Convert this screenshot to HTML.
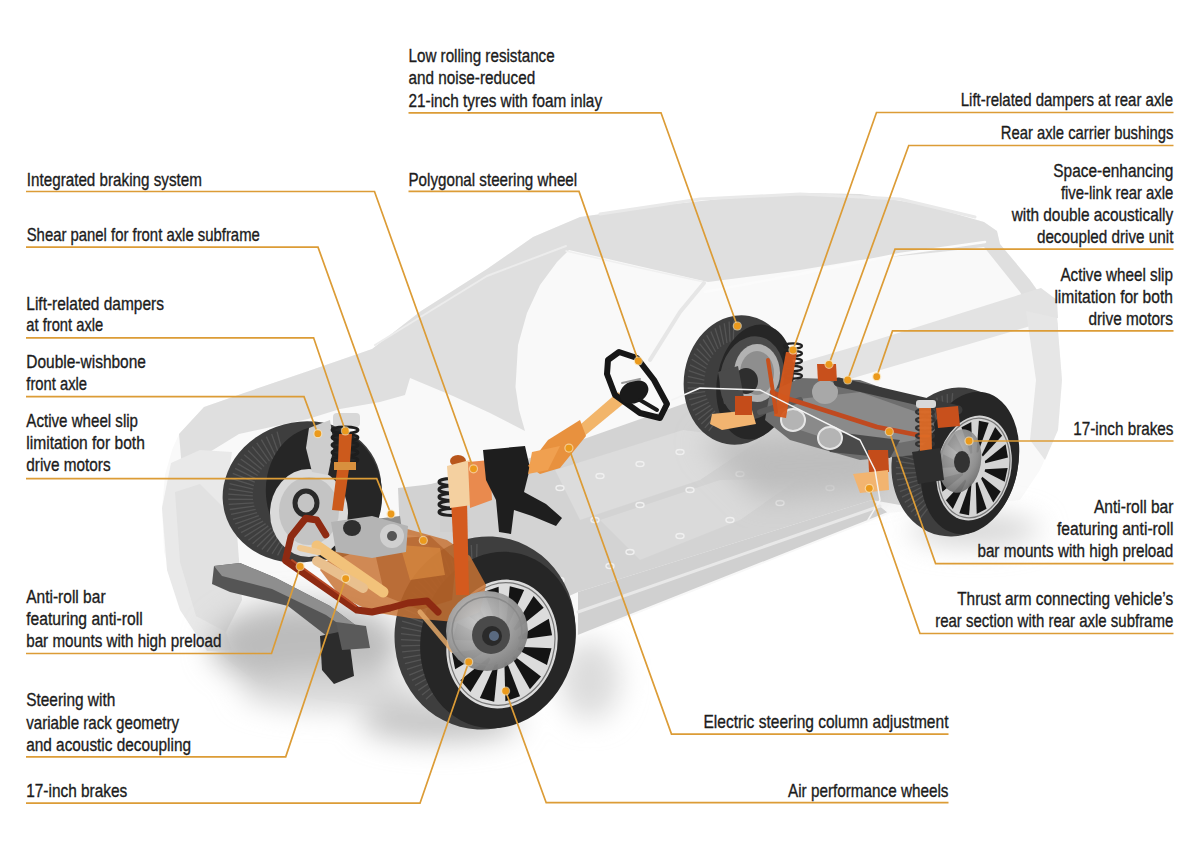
<!DOCTYPE html>
<html><head><meta charset="utf-8"><title>Chassis</title>
<style>
html,body{margin:0;padding:0;background:#fff;}
body{width:1200px;height:849px;overflow:hidden;position:relative;}
svg{position:absolute;left:0;top:0;display:block;}
.lbl text{font-family:"Liberation Sans",sans-serif;font-size:18.4px;fill:#1c1c1c;stroke:#1c1c1c;stroke-width:0.35px;}
</style></head><body>
<svg width="1200" height="849" viewBox="0 0 1200 849">
<defs>
<filter id="b2" x="-20%" y="-20%" width="140%" height="140%"><feGaussianBlur stdDeviation="2"/></filter>
<filter id="b6" x="-30%" y="-30%" width="160%" height="160%"><feGaussianBlur stdDeviation="6"/></filter>
<filter id="b14" x="-40%" y="-40%" width="180%" height="180%"><feGaussianBlur stdDeviation="14"/></filter>
</defs>
<rect width="1200" height="849" fill="#ffffff"/>
<defs>
<radialGradient id="gdisc" cx="0.4" cy="0.35" r="0.7"><stop offset="0" stop-color="#c9c9c9"/><stop offset="0.6" stop-color="#9c9c9c"/><stop offset="1" stop-color="#7c7c7c"/></radialGradient>
<radialGradient id="gdisc2" cx="0.4" cy="0.35" r="0.7"><stop offset="0" stop-color="#b5b5b5"/><stop offset="0.7" stop-color="#8a8a8a"/><stop offset="1" stop-color="#6a6a6a"/></radialGradient>
</defs>
<polygon points="165.0,475.0 172.0,450.0 179.0,434.0 204.0,407.0 244.0,393.0 307.0,371.5 372.0,349.0 421.0,311.0 487.0,269.0 533.0,237.0 580.0,217.0 664.0,205.0 720.0,199.0 800.0,193.0 860.0,194.0 925.0,205.0 984.0,222.0 997.0,231.0 1000.0,244.0 1030.0,280.0 1057.0,318.0 1062.0,380.0 1058.0,430.0 1040.0,470.0 1020.0,500.0 888.0,513.0 578.0,636.0 420.0,712.0 319.0,700.0 256.0,682.0 216.0,651.0 180.0,605.0 164.0,552.0 162.0,508.0" fill="#f9f9f9" />
<polygon points="179.0,434.0 204.0,407.0 244.0,393.0 307.0,371.5 372.0,349.0 421.0,311.0 487.0,269.0 533.0,237.0 580.0,217.0 664.0,205.0 720.0,199.0 800.0,193.0 860.0,194.0 925.0,205.0 984.0,222.0 997.0,231.0 1000.0,244.0 1030.0,280.0 1057.0,318.0 1058.0,330.0 1042.0,326.0 1020.0,292.0 984.0,247.0 940.0,252.0 860.0,260.0 800.0,270.0 708.0,282.0 569.0,250.0 557.0,262.0 540.0,285.0 527.0,313.0 518.0,345.0 515.5,387.0 519.0,410.0 525.0,431.0 490.0,413.0 453.0,396.0 410.0,378.0 405.0,395.0 380.0,402.0 340.0,409.0 308.0,419.0 239.0,434.0 182.0,469.0" fill="#dfdfdf" />
<polygon points="700.0,392.0 860.0,345.0 1041.0,288.0 1057.0,300.0 1058.0,318.0 860.0,376.0 720.0,420.0" fill="#e3e3e3" />
<polygon points="1026.0,311.0 1057.0,318.0 1062.0,380.0 1058.0,430.0 1045.0,460.0 1030.0,440.0 1036.0,380.0" fill="#e6e6e6" />
<polygon points="171.0,463.0 200.0,450.0 232.0,452.0 222.0,520.0 215.0,600.0 232.0,650.0 207.0,651.0 180.0,610.0 167.0,570.0 162.0,508.0" fill="#e9e9e9" />
<polygon points="175.0,492.0 200.0,484.0 236.0,520.0 242.0,600.0 226.0,632.0 196.0,616.0 180.0,562.0" fill="#e1e1e1" />
<polyline points="705.0,292.0 800.0,274.0 900.0,254.0 985.0,242.0" fill="none" stroke="#fbfbfb" stroke-width="2.5" stroke-linecap="round" stroke-linejoin="round" />
<polyline points="600.0,214.0 700.0,199.0 800.0,194.0 900.0,199.0 975.0,217.0" fill="none" stroke="#e9e9e9" stroke-width="3" stroke-linecap="round" stroke-linejoin="round" />
<polyline points="566.0,251.0 640.0,268.0 704.0,282.0" fill="none" stroke="#f0f0f0" stroke-width="1.5" stroke-linecap="round" stroke-linejoin="round" />
<polyline points="704.0,283.0 680.0,312.0 650.0,360.0" fill="none" stroke="#e6e6e6" stroke-width="4" stroke-linecap="round" stroke-linejoin="round" />
<polyline points="375.0,345.0 487.0,276.0 566.0,246.0" fill="none" stroke="#ececec" stroke-width="2" stroke-linecap="round" stroke-linejoin="round" />
<g filter="url(#b14)">
  <ellipse cx="305" cy="645" rx="95" ry="42" fill="#bcbcbc"/>
  <ellipse cx="330" cy="690" rx="90" ry="20" fill="#d8d8d8"/>
  <ellipse cx="440" cy="722" rx="80" ry="20" fill="#c4c4c4"/>
  <ellipse cx="590" cy="680" rx="30" ry="40" fill="#dcdcdc"/>
  <ellipse cx="975" cy="530" rx="65" ry="15" fill="#d2d2d2"/>
</g>
<polygon points="400.0,492.0 527.0,459.0 683.0,404.0 760.0,380.0 880.0,390.0 930.0,418.0 900.0,505.0 872.0,500.0 578.0,592.0 560.0,600.0 470.0,622.0" fill="#d3d3d3" />
<polygon points="555.0,470.0 683.0,430.0 760.0,440.0 700.0,480.0 580.0,520.0" fill="#dcdcdc" />
<polygon points="600.0,520.0 720.0,480.0 800.0,478.0 740.0,520.0 640.0,560.0" fill="#dadada" />
<ellipse cx="560" cy="488" rx="4" ry="2.5" fill="none" stroke="#f0f0f0" stroke-width="1.4"/>
<ellipse cx="600" cy="476" rx="4" ry="2.5" fill="none" stroke="#f0f0f0" stroke-width="1.4"/>
<ellipse cx="640" cy="464" rx="4" ry="2.5" fill="none" stroke="#f0f0f0" stroke-width="1.4"/>
<ellipse cx="680" cy="452" rx="4" ry="2.5" fill="none" stroke="#f0f0f0" stroke-width="1.4"/>
<ellipse cx="595" cy="520" rx="4" ry="2.5" fill="none" stroke="#f0f0f0" stroke-width="1.4"/>
<ellipse cx="640" cy="505" rx="4" ry="2.5" fill="none" stroke="#f0f0f0" stroke-width="1.4"/>
<ellipse cx="690" cy="490" rx="4" ry="2.5" fill="none" stroke="#f0f0f0" stroke-width="1.4"/>
<ellipse cx="740" cy="474" rx="4" ry="2.5" fill="none" stroke="#f0f0f0" stroke-width="1.4"/>
<ellipse cx="630" cy="552" rx="4" ry="2.5" fill="none" stroke="#f0f0f0" stroke-width="1.4"/>
<ellipse cx="680" cy="536" rx="4" ry="2.5" fill="none" stroke="#f0f0f0" stroke-width="1.4"/>
<ellipse cx="730" cy="520" rx="4" ry="2.5" fill="none" stroke="#f0f0f0" stroke-width="1.4"/>
<ellipse cx="780" cy="503" rx="4" ry="2.5" fill="none" stroke="#f0f0f0" stroke-width="1.4"/>
<ellipse cx="830" cy="488" rx="4" ry="2.5" fill="none" stroke="#f0f0f0" stroke-width="1.4"/>
<ellipse cx="560" cy="580" rx="4" ry="2.5" fill="none" stroke="#f0f0f0" stroke-width="1.4"/>
<ellipse cx="610" cy="566" rx="4" ry="2.5" fill="none" stroke="#f0f0f0" stroke-width="1.4"/>
<g filter="url(#b14)"><polygon points="700,440 880,430 890,490 760,500" fill="#bdbdbd"/></g>
<polygon points="578.0,592.0 872.0,500.0 888.0,513.0 578.0,636.0" fill="#d0d0d0" />
<polyline points="578.0,636.0 888.0,513.0" fill="none" stroke="#f8f8f8" stroke-width="2" stroke-linecap="round" stroke-linejoin="round" />
<polyline points="578.0,612.0 880.0,506.0" fill="none" stroke="#e8e8e8" stroke-width="3" stroke-linecap="round" stroke-linejoin="round" />
<ellipse cx="738" cy="380" rx="54" ry="65" fill="#3e3e3e" transform="rotate(10 738 380)"/>
<g transform="translate(738,380) rotate(10)" stroke="#555555" stroke-width="1.3" fill="none">
<line x1="-11.5" y1="37.9" x2="-20.0" y2="55.5"/>
<line x1="-14.5" y1="36.3" x2="-24.4" y2="52.9"/>
<line x1="-17.3" y1="34.5" x2="-28.5" y2="49.7"/>
<line x1="-20.1" y1="32.3" x2="-32.4" y2="46.1"/>
<line x1="-22.6" y1="29.8" x2="-36.0" y2="42.1"/>
<line x1="-24.9" y1="27.0" x2="-39.3" y2="37.7"/>
<line x1="-26.9" y1="23.9" x2="-42.1" y2="32.9"/>
<line x1="-28.8" y1="20.6" x2="-44.6" y2="27.8"/>
<line x1="-30.3" y1="17.2" x2="-46.6" y2="22.4"/>
<line x1="-31.5" y1="13.5" x2="-48.2" y2="16.8"/>
<line x1="-32.5" y1="9.7" x2="-49.4" y2="11.1"/>
<line x1="-33.1" y1="5.9" x2="-50.0" y2="5.2"/>
<line x1="-33.4" y1="2.0" x2="-50.2" y2="-0.7"/>
<line x1="-33.4" y1="-2.0" x2="-49.9" y2="-6.6"/>
<line x1="-33.1" y1="-5.9" x2="-49.2" y2="-12.4"/>
<line x1="-32.5" y1="-9.7" x2="-47.9" y2="-18.1"/>
<line x1="-31.5" y1="-13.5" x2="-46.2" y2="-23.7"/>
<line x1="-30.3" y1="-17.2" x2="-44.1" y2="-29.0"/>
<line x1="-28.8" y1="-20.6" x2="-41.5" y2="-34.0"/>
<line x1="-26.9" y1="-23.9" x2="-38.6" y2="-38.7"/>
<line x1="-24.9" y1="-27.0" x2="-35.2" y2="-43.1"/>
<line x1="-22.6" y1="-29.8" x2="-31.6" y2="-47.0"/>
<line x1="-20.1" y1="-32.3" x2="-27.6" y2="-50.5"/>
<line x1="-17.3" y1="-34.5" x2="-23.4" y2="-53.5"/>
<line x1="-14.5" y1="-36.3" x2="-18.9" y2="-56.0"/>
<line x1="-11.5" y1="-37.9" x2="-14.3" y2="-57.9"/>
</g>
<ellipse cx="755" cy="382" rx="38" ry="58" fill="#262626" transform="rotate(10 755 382)"/>
<ellipse cx="752" cy="378" rx="32" ry="42" fill="#4a4a4a" transform="rotate(10 752 378)"/>
<ellipse cx="757" cy="373" rx="23" ry="29" fill="#b2b2b2"/>
<ellipse cx="757" cy="373" rx="17" ry="22" fill="#8e8e8e"/>
<ellipse cx="746" cy="381" rx="12" ry="13" fill="#2e2e2e"/>
<ellipse cx="302" cy="492" rx="80" ry="70" fill="#3e3e3e" transform="rotate(-15 302 492)"/>
<g transform="translate(302,492) rotate(-15)" stroke="#555555" stroke-width="1.3" fill="none">
<line x1="-17.0" y1="40.8" x2="-29.6" y2="59.7"/>
<line x1="-20.6" y1="39.5" x2="-34.9" y2="57.5"/>
<line x1="-24.1" y1="37.9" x2="-40.0" y2="54.9"/>
<line x1="-27.5" y1="36.1" x2="-44.9" y2="51.9"/>
<line x1="-30.7" y1="34.1" x2="-49.4" y2="48.7"/>
<line x1="-33.7" y1="31.9" x2="-53.7" y2="45.1"/>
<line x1="-36.4" y1="29.4" x2="-57.6" y2="41.2"/>
<line x1="-39.0" y1="26.8" x2="-61.1" y2="37.1"/>
<line x1="-41.3" y1="24.0" x2="-64.3" y2="32.7"/>
<line x1="-43.3" y1="21.1" x2="-67.1" y2="28.2"/>
<line x1="-45.1" y1="18.0" x2="-69.4" y2="23.4"/>
<line x1="-46.6" y1="14.8" x2="-71.3" y2="18.6"/>
<line x1="-47.8" y1="11.6" x2="-72.8" y2="13.6"/>
<line x1="-48.7" y1="8.2" x2="-73.8" y2="8.5"/>
<line x1="-49.3" y1="4.8" x2="-74.3" y2="3.3"/>
<line x1="-49.6" y1="1.4" x2="-74.4" y2="-1.8"/>
<line x1="-49.5" y1="-2.1" x2="-74.0" y2="-7.0"/>
<line x1="-49.2" y1="-5.5" x2="-73.1" y2="-12.1"/>
<line x1="-48.5" y1="-8.9" x2="-71.8" y2="-17.1"/>
<line x1="-47.6" y1="-12.2" x2="-70.0" y2="-22.1"/>
<line x1="-46.3" y1="-15.5" x2="-67.8" y2="-26.8"/>
<line x1="-44.8" y1="-18.7" x2="-65.1" y2="-31.5"/>
<line x1="-43.0" y1="-21.7" x2="-62.1" y2="-35.9"/>
<line x1="-40.9" y1="-24.6" x2="-58.6" y2="-40.1"/>
<line x1="-38.5" y1="-27.4" x2="-54.8" y2="-44.0"/>
<line x1="-35.9" y1="-29.9" x2="-50.7" y2="-47.7"/>
<line x1="-33.1" y1="-32.3" x2="-46.2" y2="-51.0"/>
<line x1="-30.0" y1="-34.5" x2="-41.4" y2="-54.1"/>
<line x1="-26.8" y1="-36.5" x2="-36.4" y2="-56.8"/>
<line x1="-23.4" y1="-38.3" x2="-31.1" y2="-59.1"/>
<line x1="-19.9" y1="-39.8" x2="-25.7" y2="-61.1"/>
<line x1="-16.2" y1="-41.0" x2="-20.1" y2="-62.7"/>
<line x1="-12.5" y1="-42.0" x2="-14.3" y2="-63.9"/>
<line x1="-8.6" y1="-42.7" x2="-8.5" y2="-64.7"/>
</g>
<ellipse cx="324" cy="493" rx="58" ry="67" fill="#262626" transform="rotate(-8 324 493)"/>
<ellipse cx="309" cy="513" rx="39" ry="44" fill="#dadada"/>
<ellipse cx="309" cy="511" rx="30" ry="34" fill="#c4c4c4"/>
<ellipse cx="306" cy="503" rx="11" ry="12" fill="none" stroke="#2a2a2a" stroke-width="5"/>
<ellipse cx="955" cy="462" rx="63" ry="75" fill="#3e3e3e" transform="rotate(12 955 462)"/>
<g transform="translate(955,462) rotate(12)" stroke="#555555" stroke-width="1.3" fill="none">
<line x1="-13.4" y1="43.7" x2="-23.3" y2="64.0"/>
<line x1="-16.6" y1="42.1" x2="-28.1" y2="61.2"/>
<line x1="-19.7" y1="40.1" x2="-32.6" y2="58.0"/>
<line x1="-22.7" y1="37.8" x2="-36.9" y2="54.2"/>
<line x1="-25.5" y1="35.2" x2="-40.8" y2="50.0"/>
<line x1="-28.1" y1="32.3" x2="-44.5" y2="45.4"/>
<line x1="-30.4" y1="29.2" x2="-47.7" y2="40.5"/>
<line x1="-32.5" y1="25.8" x2="-50.6" y2="35.2"/>
<line x1="-34.3" y1="22.2" x2="-53.1" y2="29.6"/>
<line x1="-35.9" y1="18.4" x2="-55.1" y2="23.7"/>
<line x1="-37.1" y1="14.5" x2="-56.7" y2="17.7"/>
<line x1="-38.1" y1="10.4" x2="-57.8" y2="11.5"/>
<line x1="-38.7" y1="6.3" x2="-58.4" y2="5.3"/>
<line x1="-39.0" y1="2.1" x2="-58.6" y2="-1.0"/>
<line x1="-39.0" y1="-2.1" x2="-58.3" y2="-7.3"/>
<line x1="-38.7" y1="-6.3" x2="-57.5" y2="-13.6"/>
<line x1="-38.1" y1="-10.4" x2="-56.2" y2="-19.7"/>
<line x1="-37.1" y1="-14.5" x2="-54.5" y2="-25.7"/>
<line x1="-35.9" y1="-18.4" x2="-52.3" y2="-31.4"/>
<line x1="-34.3" y1="-22.2" x2="-49.7" y2="-36.9"/>
<line x1="-32.5" y1="-25.8" x2="-46.7" y2="-42.1"/>
<line x1="-30.4" y1="-29.2" x2="-43.3" y2="-47.0"/>
<line x1="-28.1" y1="-32.3" x2="-39.6" y2="-51.4"/>
<line x1="-25.5" y1="-35.2" x2="-35.5" y2="-55.5"/>
<line x1="-22.7" y1="-37.8" x2="-31.2" y2="-59.1"/>
<line x1="-19.7" y1="-40.1" x2="-26.5" y2="-62.2"/>
<line x1="-16.6" y1="-42.1" x2="-21.7" y2="-64.8"/>
<line x1="-13.4" y1="-43.7" x2="-16.7" y2="-66.9"/>
</g>
<ellipse cx="970" cy="463" rx="48" ry="72" fill="#262626" transform="rotate(12 970 463)"/>
<g transform="translate(974,468) rotate(12)">
<ellipse cx="0" cy="0" rx="37" ry="53" fill="#d4d4d4"/>
<polygon points="11.1,-1.2 32.9,-7.1 32.9,7.1 11.1,1.2" fill="#141414"/>
<polygon points="10.0,6.9 31.0,17.4 26.0,29.8 9.2,9.0" fill="#141414"/>
<polygon points="6.3,13.1 20.8,37.3 12.2,44.4 4.8,14.3" fill="#141414"/>
<polygon points="0.8,15.9 5.0,47.2 -5.0,47.2 -0.8,15.9" fill="#141414"/>
<polygon points="-4.8,14.3 -12.2,44.4 -20.8,37.3 -6.3,13.1" fill="#141414"/>
<polygon points="-9.2,9.0 -26.0,29.8 -31.0,17.4 -10.0,6.9" fill="#141414"/>
<polygon points="-11.1,1.2 -32.9,7.1 -32.9,-7.1 -11.1,-1.2" fill="#141414"/>
<polygon points="-10.0,-6.9 -31.0,-17.4 -26.0,-29.8 -9.2,-9.0" fill="#141414"/>
<polygon points="-6.3,-13.1 -20.8,-37.3 -12.2,-44.4 -4.8,-14.3" fill="#141414"/>
<polygon points="-0.8,-15.9 -5.0,-47.2 5.0,-47.2 0.8,-15.9" fill="#141414"/>
<polygon points="4.8,-14.3 12.2,-44.4 20.8,-37.3 6.3,-13.1" fill="#141414"/>
<polygon points="9.2,-9.0 26.0,-29.8 31.0,-17.4 10.0,-6.9" fill="#141414"/>
<ellipse cx="0" cy="0" rx="35.1" ry="50.3" fill="none" stroke="#777" stroke-width="1.2"/>
</g>
<ellipse cx="960" cy="461" rx="21" ry="32" fill="url(#gdisc2)" opacity="0.92" transform="rotate(10 960 461)"/>
<ellipse cx="962" cy="462" rx="8" ry="11" fill="#333"/>
<ellipse cx="485" cy="633" rx="90" ry="97" fill="#3e3e3e" transform="rotate(15 485 633)"/>
<g transform="translate(485,633) rotate(15)" stroke="#555555" stroke-width="1.3" fill="none">
<line x1="-23.6" y1="54.5" x2="-39.9" y2="79.3"/>
<line x1="-27.0" y1="52.6" x2="-44.8" y2="76.2"/>
<line x1="-30.3" y1="50.5" x2="-49.6" y2="72.7"/>
<line x1="-33.4" y1="48.1" x2="-54.1" y2="68.8"/>
<line x1="-36.4" y1="45.6" x2="-58.3" y2="64.7"/>
<line x1="-39.2" y1="42.7" x2="-62.3" y2="60.2"/>
<line x1="-41.9" y1="39.7" x2="-66.0" y2="55.4"/>
<line x1="-44.3" y1="36.5" x2="-69.4" y2="50.4"/>
<line x1="-46.5" y1="33.2" x2="-72.5" y2="45.2"/>
<line x1="-48.5" y1="29.7" x2="-75.2" y2="39.7"/>
<line x1="-50.3" y1="26.0" x2="-77.5" y2="34.0"/>
<line x1="-51.9" y1="22.2" x2="-79.5" y2="28.2"/>
<line x1="-53.2" y1="18.3" x2="-81.1" y2="22.3"/>
<line x1="-54.2" y1="14.3" x2="-82.3" y2="16.2"/>
<line x1="-55.0" y1="10.3" x2="-83.2" y2="10.1"/>
<line x1="-55.5" y1="6.2" x2="-83.6" y2="3.9"/>
<line x1="-55.8" y1="2.1" x2="-83.7" y2="-2.3"/>
<line x1="-55.8" y1="-2.1" x2="-83.3" y2="-8.5"/>
<line x1="-55.5" y1="-6.2" x2="-82.6" y2="-14.7"/>
<line x1="-55.0" y1="-10.3" x2="-81.5" y2="-20.7"/>
<line x1="-54.2" y1="-14.3" x2="-79.9" y2="-26.7"/>
<line x1="-53.2" y1="-18.3" x2="-78.1" y2="-32.6"/>
<line x1="-51.9" y1="-22.2" x2="-75.8" y2="-38.3"/>
<line x1="-50.3" y1="-26.0" x2="-73.2" y2="-43.8"/>
<line x1="-48.5" y1="-29.7" x2="-70.2" y2="-49.1"/>
<line x1="-46.5" y1="-33.2" x2="-66.9" y2="-54.2"/>
<line x1="-44.3" y1="-36.5" x2="-63.3" y2="-59.0"/>
<line x1="-41.9" y1="-39.7" x2="-59.4" y2="-63.6"/>
<line x1="-39.2" y1="-42.7" x2="-55.2" y2="-67.8"/>
<line x1="-36.4" y1="-45.6" x2="-50.7" y2="-71.7"/>
<line x1="-33.4" y1="-48.1" x2="-46.1" y2="-75.3"/>
<line x1="-30.3" y1="-50.5" x2="-41.1" y2="-78.6"/>
<line x1="-27.0" y1="-52.6" x2="-36.0" y2="-81.4"/>
<line x1="-23.6" y1="-54.5" x2="-30.8" y2="-83.9"/>
</g>
<ellipse cx="498" cy="640" rx="77" ry="89" fill="#262626" transform="rotate(15 498 640)"/>
<g transform="translate(502,644) rotate(15)">
<ellipse cx="0" cy="0" rx="55" ry="65" fill="#dcdcdc"/>
<polygon points="16.5,-1.5 48.9,-8.7 48.9,8.7 16.5,1.5" fill="#141414"/>
<polygon points="14.9,8.5 46.1,21.4 38.7,36.5 13.6,11.0" fill="#141414"/>
<polygon points="9.3,16.1 30.9,45.7 18.1,54.5 7.2,17.6" fill="#141414"/>
<polygon points="1.2,19.4 7.4,57.8 -7.4,57.8 -1.2,19.4" fill="#141414"/>
<polygon points="-7.2,17.6 -18.1,54.5 -30.9,45.7 -9.3,16.1" fill="#141414"/>
<polygon points="-13.6,11.0 -38.7,36.5 -46.1,21.4 -14.9,8.5" fill="#141414"/>
<polygon points="-16.5,1.5 -48.9,8.7 -48.9,-8.7 -16.5,-1.5" fill="#141414"/>
<polygon points="-14.9,-8.5 -46.1,-21.4 -38.7,-36.5 -13.6,-11.0" fill="#141414"/>
<polygon points="-9.3,-16.1 -30.9,-45.7 -18.1,-54.5 -7.2,-17.6" fill="#141414"/>
<polygon points="-1.2,-19.4 -7.4,-57.8 7.4,-57.8 1.2,-19.4" fill="#141414"/>
<polygon points="7.2,-17.6 18.1,-54.5 30.9,-45.7 9.3,-16.1" fill="#141414"/>
<polygon points="13.6,-11.0 38.7,-36.5 46.1,-21.4 14.9,-8.5" fill="#141414"/>
<ellipse cx="0" cy="0" rx="52.2" ry="61.8" fill="none" stroke="#777" stroke-width="1.2"/>
</g>
<polygon points="309.0,428.0 330.0,420.0 334.0,445.0 328.0,475.0 312.0,472.0 306.0,448.0" fill="#cdcdcd" />
<polygon points="398.0,488.0 450.0,482.0 495.0,492.0 497.0,532.0 450.0,540.0 400.0,534.0" fill="#d2d2d2" />
<polygon points="350.0,522.0 400.0,516.0 405.0,552.0 360.0,556.0" fill="#8e8e8e" />
<ellipse cx="390" cy="534" rx="13" ry="12" fill="#b9b9b9"/>
<ellipse cx="368" cy="530" rx="9" ry="9" fill="#4a4a4a"/>
<polygon points="214.0,566.0 240.0,563.0 276.0,578.0 330.0,606.0 362.0,630.0 356.0,646.0 332.0,640.0 288.0,606.0 230.0,592.0 212.0,584.0" fill="#555555" />
<polygon points="214.0,566.0 240.0,563.0 276.0,578.0 330.0,606.0 362.0,630.0 356.0,636.0 326.0,615.0 272.0,589.0 222.0,576.0" fill="#8e8e8e" />
<polygon points="320.0,636.0 348.0,630.0 354.0,676.0 334.0,684.0 322.0,670.0" fill="#2c2c2c" />
<polygon points="336.0,622.0 366.0,626.0 370.0,648.0 342.0,650.0" fill="#5a5a5a" />
<polygon points="352.0,530.0 400.0,527.0 447.0,540.0 470.0,556.0 486.0,585.0 480.0,612.0 455.0,622.0 410.0,618.0 372.0,612.0 340.0,596.0 320.0,570.0" fill="#c87435" opacity="0.84"/>
<polygon points="372.0,540.0 430.0,536.0 456.0,560.0 452.0,600.0 420.0,610.0 385.0,596.0" fill="#a8561f" opacity="0.55"/>
<polygon points="400.0,545.0 440.0,548.0 445.0,575.0 410.0,580.0" fill="#d88a40" opacity="0.7"/>
<polygon points="331.0,522.0 372.0,516.0 408.0,526.0 406.0,552.0 372.0,558.0 336.0,552.0" fill="#b4b4b4" />
<ellipse cx="392" cy="536" rx="12" ry="12" fill="#d0d0d0"/>
<ellipse cx="392" cy="536" rx="5" ry="5" fill="#555"/>
<ellipse cx="352" cy="528" rx="9" ry="8" fill="#2e2e2e"/>
<polyline points="317.0,546.0 383.0,592.0" fill="none" stroke="#f2c27a" stroke-width="11" stroke-linecap="round" stroke-linejoin="round" />
<polyline points="317.0,561.0 363.0,588.0" fill="none" stroke="#e9c08e" stroke-width="10" stroke-linecap="round" stroke-linejoin="round" />
<polyline points="300.0,548.0 318.0,552.0" fill="none" stroke="#f0c890" stroke-width="6" stroke-linecap="round" stroke-linejoin="round" />
<polyline points="420.0,612.0 452.0,650.0" fill="none" stroke="#e3a868" stroke-width="5" stroke-linecap="round" stroke-linejoin="round" opacity="0.85"/>
<polyline points="325.8,534.8 316.7,520.0 305.7,518.3 291.0,536.7 285.5,560.5 357.0,610.0 372.0,612.0 390.0,608.0 408.0,603.0 427.0,601.0 438.0,612.0" fill="none" stroke="#8e2a12" stroke-width="7" stroke-linecap="round" stroke-linejoin="round" />
<polyline points="292.0,560.0 356.0,606.0" fill="none" stroke="#b84a26" stroke-width="2" stroke-linecap="round" stroke-linejoin="round" />
<rect x="333" y="413" width="27" height="14" rx="4" fill="#d8d8d8"/>
<ellipse cx="345" cy="430.0" rx="13" ry="3.2" fill="none" stroke="#1e1e1e" stroke-width="2.8"/>
<ellipse cx="345" cy="437.5" rx="13" ry="3.2" fill="none" stroke="#1e1e1e" stroke-width="2.8"/>
<ellipse cx="345" cy="445.0" rx="13" ry="3.2" fill="none" stroke="#1e1e1e" stroke-width="2.8"/>
<ellipse cx="345" cy="452.5" rx="13" ry="3.2" fill="none" stroke="#1e1e1e" stroke-width="2.8"/>
<ellipse cx="345" cy="460.0" rx="13" ry="3.2" fill="none" stroke="#1e1e1e" stroke-width="2.8"/>
<polygon points="339.0,434.0 352.0,434.0 350.0,462.0 343.0,511.0 332.0,510.0 338.0,462.0" fill="#cc5a1c" />
<polygon points="334.0,462.0 356.0,462.0 356.0,470.0 334.0,470.0" fill="#d8903e" />
<ellipse cx="458" cy="461" rx="8" ry="6" fill="#b8561c"/>
<ellipse cx="452" cy="482.0" rx="13" ry="3.4" fill="none" stroke="#202020" stroke-width="3"/>
<ellipse cx="452" cy="489.5" rx="13" ry="3.4" fill="none" stroke="#202020" stroke-width="3"/>
<ellipse cx="452" cy="497.0" rx="13" ry="3.4" fill="none" stroke="#202020" stroke-width="3"/>
<ellipse cx="452" cy="504.5" rx="13" ry="3.4" fill="none" stroke="#202020" stroke-width="3"/>
<ellipse cx="452" cy="512.0" rx="13" ry="3.4" fill="none" stroke="#202020" stroke-width="3"/>
<polygon points="440.0,520.0 470.0,520.0 470.0,532.0 440.0,532.0" fill="#cfcfcf" />
<polygon points="451.0,500.0 467.0,500.0 469.0,595.0 456.0,595.0" fill="#d45a1e" />
<polygon points="447.0,466.0 470.0,460.0 472.0,505.0 450.0,508.0" fill="#f4d0a0" />
<polygon points="468.0,462.0 490.0,460.0 492.0,500.0 470.0,508.0" fill="#e98a4e" />
<polygon points="483.0,450.0 525.0,446.0 530.0,468.0 524.0,492.0 546.0,504.0 562.0,518.0 556.0,526.0 532.0,516.0 514.0,510.0 511.0,534.0 499.0,532.0 496.0,500.0 486.0,480.0" fill="#1e1e1e" />
<polygon points="618.0,392.0 628.0,400.0 582.0,438.0 574.0,430.0" fill="#f2b56a" />
<polygon points="580.0,420.0 586.0,436.0 560.0,468.0 540.0,474.0 528.0,466.0 548.0,440.0" fill="#e8913e" />
<polygon points="532.0,452.0 560.0,446.0 548.0,470.0 528.0,474.0" fill="#f0a050" />
<ellipse cx="487" cy="631" rx="41" ry="40" fill="url(#gdisc)" opacity="0.97"/>
<ellipse cx="487" cy="631" rx="35" ry="34" fill="none" stroke="#8a8a8a" stroke-width="1.5"/>
<ellipse cx="491" cy="635" rx="19" ry="19" fill="#4a4a4a"/>
<ellipse cx="492" cy="636" rx="10" ry="10" fill="#2a2a2a"/>
<ellipse cx="494" cy="636" rx="5" ry="5" fill="#5a6a80"/>
<polygon points="718.0,372.0 738.0,366.0 744.0,398.0 724.0,404.0" fill="#4a4a4a" />
<polygon points="770.0,392.0 800.0,378.0 860.0,380.0 930.0,405.0 935.0,430.0 915.0,455.0 860.0,460.0 790.0,440.0 765.0,420.0" fill="#6e6e6e" />
<polygon points="790.0,400.0 860.0,392.0 925.0,415.0 915.0,440.0 860.0,450.0 800.0,430.0" fill="#8a8a8a" />
<polygon points="820.0,430.0 900.0,440.0 890.0,458.0 830.0,452.0" fill="#4a4a4a" />
<ellipse cx="793" cy="420" rx="12" ry="11" fill="#b4b4b4" stroke="#e6e6e6" stroke-width="2"/>
<ellipse cx="830" cy="438" rx="12" ry="11" fill="#b4b4b4" stroke="#e6e6e6" stroke-width="2"/>
<ellipse cx="825" cy="392" rx="13" ry="12" fill="#a8a8a8"/>
<polyline points="838.0,382.0 958.0,410.0" fill="none" stroke="#3a3a3a" stroke-width="9" stroke-linecap="round" stroke-linejoin="round" />
<polyline points="760.0,412.0 800.0,400.0" fill="none" stroke="#5a5a5a" stroke-width="6" stroke-linecap="round" stroke-linejoin="round" />
<polyline points="772.0,392.0 783.0,397.0 877.0,427.0 928.0,437.0" fill="none" stroke="#c04a20" stroke-width="4.5" stroke-linecap="round" stroke-linejoin="round" />
<ellipse cx="793" cy="346.0" rx="9" ry="2.6" fill="none" stroke="#222" stroke-width="2.2"/>
<ellipse cx="793" cy="353.5" rx="9" ry="2.6" fill="none" stroke="#222" stroke-width="2.2"/>
<ellipse cx="793" cy="361.0" rx="9" ry="2.6" fill="none" stroke="#222" stroke-width="2.2"/>
<ellipse cx="793" cy="368.5" rx="9" ry="2.6" fill="none" stroke="#222" stroke-width="2.2"/>
<ellipse cx="793" cy="376.0" rx="9" ry="2.6" fill="none" stroke="#222" stroke-width="2.2"/>
<polygon points="786.0,352.0 797.0,352.0 786.0,418.0 774.0,416.0" fill="#d4571c" opacity="0.95"/>
<polyline points="768.0,360.0 776.0,412.0" fill="none" stroke="#c8501c" stroke-width="4" stroke-linecap="round" stroke-linejoin="round" />
<polygon points="712.0,414.0 752.0,410.0 756.0,424.0 722.0,430.0 710.0,424.0" fill="#f2b470" />
<polygon points="735.0,396.0 752.0,396.0 752.0,415.0 735.0,415.0" fill="#c44c1a" />
<polygon points="817.0,364.0 836.0,364.0 837.0,381.0 818.0,381.0" fill="#c8501c" />
<ellipse cx="925" cy="412" rx="9" ry="2.6" fill="none" stroke="#333" stroke-width="2.2"/>
<ellipse cx="925" cy="420" rx="9" ry="2.6" fill="none" stroke="#333" stroke-width="2.2"/>
<ellipse cx="925" cy="428" rx="9" ry="2.6" fill="none" stroke="#333" stroke-width="2.2"/>
<ellipse cx="925" cy="436" rx="9" ry="2.6" fill="none" stroke="#333" stroke-width="2.2"/>
<ellipse cx="925" cy="444" rx="9" ry="2.6" fill="none" stroke="#333" stroke-width="2.2"/>
<polygon points="919.0,405.0 931.0,405.0 932.0,452.0 920.0,452.0" fill="#dd6a26" opacity="0.95"/>
<rect x="916" y="400" width="20" height="8" rx="3" fill="#d8d8d8"/>
<polygon points="936.0,408.0 958.0,406.0 960.0,426.0 938.0,428.0" fill="#c8501c" />
<polygon points="912.0,452.0 940.0,448.0 944.0,480.0 918.0,484.0" fill="#2e2e2e" />
<polygon points="868.0,450.0 888.0,450.0 889.0,472.0 869.0,472.0" fill="#c44c1a" />
<polygon points="853.0,474.0 888.0,470.0 889.0,490.0 860.0,493.0" fill="#f2b470" />
<polyline points="672.0,400.0 700.0,388.0 760.0,390.0 860.0,440.0 875.0,470.0 880.0,500.0 868.0,520.0" fill="none" stroke="#f4f4f4" stroke-width="1.5" stroke-linecap="round" stroke-linejoin="round" />
<polygon points="608,360 619,352 637,358 654,380 667,404 660,418 640,413 615,395 607,374" fill="none" stroke="#161616" stroke-width="6" stroke-linejoin="round"/>
<ellipse cx="634" cy="392" rx="15" ry="11" fill="#1a1a1a" transform="rotate(-25 634 392)"/>
<polyline points="622.0,383.0 640.0,379.0" fill="none" stroke="#9a9a9a" stroke-width="2" stroke-linecap="round" stroke-linejoin="round" />
<polyline points="640.0,400.0 657.0,410.0" fill="none" stroke="#1a1a1a" stroke-width="4" stroke-linecap="round" stroke-linejoin="round" />
<g fill="none" stroke="#dc9c36" stroke-width="1.7" stroke-linejoin="miter">
<polyline points="26,191.5 374.5,191.5 473.5,468.8"/>
<polyline points="26,247.1 318,247.1 423.3,540.4"/>
<polyline points="26,337.8 313.6,337.8 345.4,430.9"/>
<polyline points="26,396.7 304,396.7 317.8,433.7"/>
<polyline points="26,478.6 376.7,478.6 391,514"/>
<polyline points="26,653.5 271.5,653.5 300.2,566.4"/>
<polyline points="26,756.8 285.7,756.8 345.7,578.6"/>
<polyline points="26,803.2 420,803.2 468.7,662"/>
<polyline points="408.5,112.8 661,112.8 737.3,326"/>
<polyline points="408.5,191.4 579,191.4 638.3,361"/>
<polyline points="1173.5,112.5 876.5,112.5 793,350"/>
<polyline points="1173.5,145.5 908.75,145.5 829,364.3"/>
<polyline points="1173.5,249.2 895,249.2 847.7,380"/>
<polyline points="1173.5,330.9 892.5,330.9 876.7,376.7"/>
<polyline points="1173.5,441.0 969,441.0"/>
<polyline points="1173.5,563.6 935.6,563.6 889.3,431.7"/>
<polyline points="1173.5,633.5 920,633.5 869.3,488.3"/>
<polyline points="948.5,734.1 671.5,734.1 568.9,448.1"/>
<polyline points="948.5,802.7 546.2,802.7 505.6,691"/>
</g>
<circle cx="473.5" cy="468.8" r="4.6" fill="#fbe3b0" opacity="0.7"/><circle cx="473.5" cy="468.8" r="3.4" fill="#eb9a1c"/>
<circle cx="423.3" cy="540.4" r="4.6" fill="#fbe3b0" opacity="0.7"/><circle cx="423.3" cy="540.4" r="3.4" fill="#eb9a1c"/>
<circle cx="345.4" cy="430.9" r="4.6" fill="#fbe3b0" opacity="0.7"/><circle cx="345.4" cy="430.9" r="3.4" fill="#eb9a1c"/>
<circle cx="317.8" cy="433.7" r="4.6" fill="#fbe3b0" opacity="0.7"/><circle cx="317.8" cy="433.7" r="3.4" fill="#eb9a1c"/>
<circle cx="391" cy="514" r="4.6" fill="#fbe3b0" opacity="0.7"/><circle cx="391" cy="514" r="3.4" fill="#eb9a1c"/>
<circle cx="300.2" cy="566.4" r="4.6" fill="#fbe3b0" opacity="0.7"/><circle cx="300.2" cy="566.4" r="3.4" fill="#eb9a1c"/>
<circle cx="345.7" cy="578.6" r="4.6" fill="#fbe3b0" opacity="0.7"/><circle cx="345.7" cy="578.6" r="3.4" fill="#eb9a1c"/>
<circle cx="468.7" cy="662" r="4.6" fill="#fbe3b0" opacity="0.7"/><circle cx="468.7" cy="662" r="3.4" fill="#eb9a1c"/>
<circle cx="737.3" cy="326" r="4.6" fill="#fbe3b0" opacity="0.7"/><circle cx="737.3" cy="326" r="3.4" fill="#eb9a1c"/>
<circle cx="638.3" cy="361" r="4.6" fill="#fbe3b0" opacity="0.7"/><circle cx="638.3" cy="361" r="3.4" fill="#eb9a1c"/>
<circle cx="793" cy="350" r="4.6" fill="#fbe3b0" opacity="0.7"/><circle cx="793" cy="350" r="3.4" fill="#eb9a1c"/>
<circle cx="829" cy="364.3" r="4.6" fill="#fbe3b0" opacity="0.7"/><circle cx="829" cy="364.3" r="3.4" fill="#eb9a1c"/>
<circle cx="847.7" cy="380" r="4.6" fill="#fbe3b0" opacity="0.7"/><circle cx="847.7" cy="380" r="3.4" fill="#eb9a1c"/>
<circle cx="876.7" cy="376.7" r="4.6" fill="#fbe3b0" opacity="0.7"/><circle cx="876.7" cy="376.7" r="3.4" fill="#eb9a1c"/>
<circle cx="969" cy="441.0" r="4.6" fill="#fbe3b0" opacity="0.7"/><circle cx="969" cy="441.0" r="3.4" fill="#eb9a1c"/>
<circle cx="889.3" cy="431.7" r="4.6" fill="#fbe3b0" opacity="0.7"/><circle cx="889.3" cy="431.7" r="3.4" fill="#eb9a1c"/>
<circle cx="869.3" cy="488.3" r="4.6" fill="#fbe3b0" opacity="0.7"/><circle cx="869.3" cy="488.3" r="3.4" fill="#eb9a1c"/>
<circle cx="568.9" cy="448.1" r="4.6" fill="#fbe3b0" opacity="0.7"/><circle cx="568.9" cy="448.1" r="3.4" fill="#eb9a1c"/>
<circle cx="505.6" cy="691" r="4.6" fill="#fbe3b0" opacity="0.7"/><circle cx="505.6" cy="691" r="3.4" fill="#eb9a1c"/>
<g class="lbl">
<text transform="translate(26.80,185.8) scale(0.8276,1)">Integrated braking system</text>
<text transform="translate(26.70,240.8) scale(0.8089,1)">Shear panel for front axle subframe</text>
<text transform="translate(26.30,309.7) scale(0.8411,1)">Lift-related dampers</text>
<text transform="translate(26.30,331.4) scale(0.8002,1)">at front axle</text>
<text transform="translate(26.30,368.3) scale(0.8418,1)">Double-wishbone</text>
<text transform="translate(26.30,390.2) scale(0.8032,1)">front axle</text>
<text transform="translate(26.30,427.2) scale(0.8221,1)">Active wheel slip</text>
<text transform="translate(26.30,449.3) scale(0.8465,1)">limitation for both</text>
<text transform="translate(26.30,471.3) scale(0.8330,1)">drive motors</text>
<text transform="translate(26.20,603.1) scale(0.8438,1)">Anti-roll bar</text>
<text transform="translate(26.20,625.2) scale(0.8504,1)">featuring anti-roll</text>
<text transform="translate(26.20,647.3) scale(0.8269,1)">bar mounts with high preload</text>
<text transform="translate(26.20,706.3) scale(0.8374,1)">Steering with</text>
<text transform="translate(26.20,728.5) scale(0.8221,1)">variable rack geometry</text>
<text transform="translate(26.20,750.8) scale(0.8354,1)">and acoustic decoupling</text>
<text transform="translate(26.20,796.6) scale(0.8376,1)">17-inch brakes</text>
<text transform="translate(408.50,62.3) scale(0.8259,1)">Low rolling resistance</text>
<text transform="translate(408.50,84.4) scale(0.8320,1)">and noise-reduced</text>
<text transform="translate(408.50,106.5) scale(0.8341,1)">21-inch tyres with foam inlay</text>
<text transform="translate(408.50,185.6) scale(0.8245,1)">Polygonal steering wheel</text>
<text transform="translate(960.75,106.2) scale(0.8148,1)">Lift-related dampers at rear axle</text>
<text transform="translate(1000.75,139.2) scale(0.8042,1)">Rear axle carrier bushings</text>
<text transform="translate(1053.30,176.6) scale(0.8394,1)">Space-enhancing</text>
<text transform="translate(1060.90,198.8) scale(0.8095,1)">five-link rear axle</text>
<text transform="translate(1011.68,221.0) scale(0.8371,1)">with double acoustically</text>
<text transform="translate(1036.90,243.0) scale(0.8294,1)">decoupled drive unit</text>
<text transform="translate(1060.40,280.5) scale(0.8279,1)">Active wheel slip</text>
<text transform="translate(1054.40,302.7) scale(0.8465,1)">limitation for both</text>
<text transform="translate(1088.40,324.7) scale(0.8360,1)">drive motors</text>
<text transform="translate(1073.30,434.8) scale(0.8302,1)">17-inch brakes</text>
<text transform="translate(1094.00,512.8) scale(0.8448,1)">Anti-roll bar</text>
<text transform="translate(1057.00,535.1) scale(0.8504,1)">featuring anti-roll</text>
<text transform="translate(977.40,557.3) scale(0.8299,1)">bar mounts with high preload</text>
<text transform="translate(957.20,605.2) scale(0.8371,1)">Thrust arm connecting vehicle’s</text>
<text transform="translate(935.20,627.3) scale(0.8147,1)">rear section with rear axle subframe</text>
<text transform="translate(703.50,728.3) scale(0.8437,1)">Electric steering column adjustment</text>
<text transform="translate(788.00,796.5) scale(0.8303,1)">Air performance wheels</text>
</g>
</svg>
</body></html>
